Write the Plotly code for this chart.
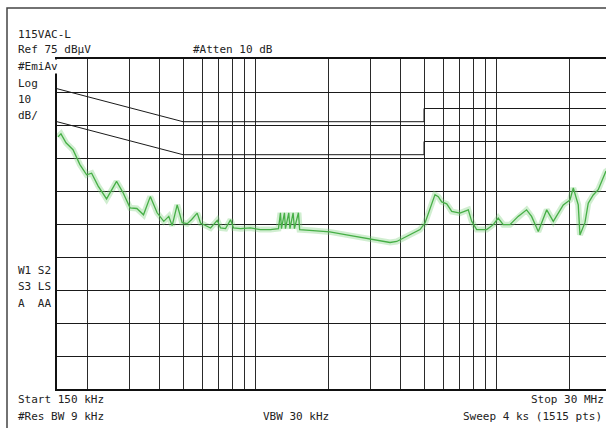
import math
import plotly.graph_objects as go

# ---- data ----
freq_mhz = [0.1514, 0.1558, 0.1635, 0.1748, 0.1867, 0.1991, 0.2088, 0.2223, 0.2409, 0.2528,
            0.2650, 0.2824, 0.3014, 0.3217, 0.3428, 0.3658, 0.3904, 0.4160, 0.4364, 0.4508,
            0.4729, 0.4960, 0.5204, 0.5421, 0.5726, 0.5911, 0.6199, 0.6505, 0.6935, 0.7157,
            0.7507, 0.7875, 0.8105, 0.8667, 0.9529, 1.0478, 1.1523, 1.2445,
            1.2685, 1.2807, 1.3178, 1.3306, 1.3733, 1.3890, 1.4317, 1.4496, 1.5062, 1.5237,
            1.7320, 2.0326, 2.3853, 2.9877, 3.6136, 3.8537, 4.2393, 4.5150, 4.8130, 5.0487,
            5.2944, 5.5529, 5.7311, 5.9205, 6.2108, 6.5154, 7.0489, 7.6339, 7.8852, 8.2714,
            9.0988, 9.6882, 10.160, 10.657, 11.364, 12.292, 13.321, 13.972, 14.900, 16.148,
            17.196, 18.916, 20.168, 20.814, 21.826, 22.181, 23.267, 24.012, 25.18, 26.41,
            28.4, 30.0]
level_dbuv = [51.4, 52.3, 49.6, 47.5, 43.0, 39.9, 40.4, 36.5, 32.6, 35.4,
              37.9, 34.4, 29.9, 29.7, 27.8, 33.3, 28.4, 25.8, 27.3, 24.5,
              30.8, 25.4, 25.1, 26.3, 28.3, 25.3, 24.5, 23.8, 26.1, 23.8,
              23.6, 26.3, 23.8, 23.6, 23.8, 23.3, 23.3, 23.6,
              28.4, 23.6, 28.4, 23.6, 28.4, 23.6, 28.4, 23.6, 28.4, 23.3,
              23.0, 22.6, 21.7, 20.4, 19.4, 19.7, 21.2, 22.3, 23.3, 25.3,
              29.3, 33.9, 33.3, 31.7, 31.1, 28.8, 28.3, 29.3, 25.8, 23.3,
              23.3, 24.8, 26.8, 24.8, 24.8, 27.3, 29.3, 27.3, 22.7, 29.3,
              25.8, 30.8, 32.3, 35.9, 30.8, 21.7, 25.4, 31.3, 33.8, 35.4,
              40.9, 42.0]

limit_freq_mhz = [0.15, 0.5, 5.0, 5.0, 30.0]
limit_qp_dbuv = [66, 56, 56, 60, 60]
limit_avg_dbuv = [56, 46, 46, 50, 50]

grid_freq_mhz = [0.2, 0.3, 0.4, 0.5, 0.6, 0.7, 0.8, 0.9,
                 1, 2, 3, 4, 5, 6, 7, 8, 9, 10, 20, 30]

ref_level = 75
db_per_div = 10
n_div = 10

# ---- geometry ----
W, H = 606, 428
L, T, B = 57, 59, 39
PW = W - L
PH = H - T - B
DECADE_PX = 241.0
x0 = math.log10(0.15)
x1 = x0 + PW / DECADE_PX


def xp(px):
    return (px - L) / PW


def yp(py):
    return (H - B - py) / PH


fig = go.Figure()

# limit lines
for lim in (limit_qp_dbuv, limit_avg_dbuv):
    fig.add_trace(go.Scatter(x=limit_freq_mhz, y=lim, mode="lines",
                             line=dict(color="#1a1a1a", width=1),
                             hoverinfo="skip", showlegend=False))

# trace glow + core
fig.add_trace(go.Scatter(x=freq_mhz, y=level_dbuv, mode="lines",
                         line=dict(color="rgba(120,205,120,0.35)", width=6),
                         hoverinfo="skip", showlegend=False))
fig.add_trace(go.Scatter(x=freq_mhz, y=level_dbuv, mode="lines",
                         line=dict(color="rgb(70,175,70)", width=1.3),
                         showlegend=False))

fig.update_xaxes(type="log", range=[x0, x1], tickvals=grid_freq_mhz,
                 showticklabels=False, ticks="", showgrid=True,
                 gridcolor="#2a2a2a", gridwidth=1, zeroline=False,
                 showline=True, linecolor="#111", linewidth=1.5, mirror=True)
fig.update_yaxes(range=[ref_level - n_div * db_per_div, ref_level],
                 tick0=ref_level, dtick=db_per_div,
                 showticklabels=False, ticks="", showgrid=True,
                 gridcolor="#1a1a1a", gridwidth=1, zeroline=False,
                 showline=True, linecolor="#111", linewidth=1.5, mirror=False)

# outer frame
fig.add_shape(type="path", xref="paper", yref="paper",
              path=f"M {xp(7)} {yp(430)} L {xp(7)} {yp(8)} L {xp(610)} {yp(8)}",
              line=dict(color="#444", width=1.5))

FONT = dict(family="DejaVu Sans Mono", size=11, color="#222")
texts_left = [
    ("115VAC-L", 17, 34),
    ("Ref 75 dBµV", 17, 50),
    ("#EmiAv", 17, 66),
    ("Log", 17, 83),
    ("10", 17, 99),
    ("dB/", 17, 115),
    ("W1 S2", 17, 270),
    ("S3 LS", 17, 286.5),
    ("A  AA", 17, 303),
    ("Start 150 kHz", 17, 399),
    ("#Res BW 9 kHz", 17, 416),
    ("#Atten 10 dB", 192, 50),
]
for txt, px, py in texts_left:
    fig.add_annotation(text=txt, x=xp(px), y=yp(py), xref="paper", yref="paper",
                       xanchor="left", yanchor="middle", showarrow=False,
                       font=FONT, bgcolor="white", borderpad=0)
fig.add_annotation(text="VBW 30 kHz", x=xp(296), y=yp(416), xref="paper", yref="paper",
                   xanchor="center", yanchor="middle", showarrow=False, font=FONT)
fig.add_annotation(text="Stop 30 MHz", x=xp(606), y=yp(399), xref="paper", yref="paper",
                   xanchor="right", yanchor="middle", showarrow=False, font=FONT)
fig.add_annotation(text="Sweep 4 ks (1515 pts)", x=xp(604), y=yp(416), xref="paper",
                   yref="paper", xanchor="right", yanchor="middle", showarrow=False, font=FONT)

fig.update_layout(width=W, height=H, margin=dict(l=L, r=0, t=T, b=B, pad=0),
                  paper_bgcolor="white", plot_bgcolor="white", showlegend=False)

fig.write_html("out.html", config={"displayModeBar": False})
